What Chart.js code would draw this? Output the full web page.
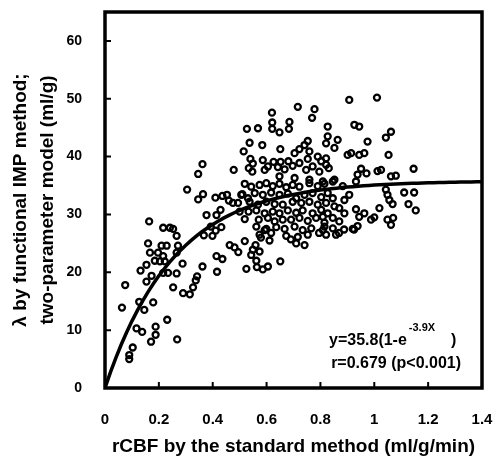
<!DOCTYPE html>
<html>
<head>
<meta charset="utf-8">
<script src="https://cdn.jsdelivr.net/npm/chart.js@4"></script>
<style>
  html, body { margin: 0; padding: 0; background: #fff; }
  canvas { display: block; }
</style>
</head>
<body>
<canvas id="chart" width="496" height="456"></canvas>
<script>
// rCBF (ml/g/min), lambda (ml/g)
const obs = [
  // low flow region
  [0.063,13.9],[0.075,17.8],[0.090,5.7],[0.090,5.0],[0.103,7.0],[0.117,10.3],[0.138,9.7],[0.127,14.9],[0.146,13.5],[0.132,20.3],
  [0.154,21.3],[0.154,18.4],[0.173,19.4],[0.160,25.0],[0.167,23.4],[0.197,23.4],[0.185,22.0],[0.204,21.9],[0.222,21.9],[0.216,22.8],
  [0.210,24.6],[0.229,24.6],[0.266,26.3],[0.271,24.6],[0.266,23.4],[0.216,19.9],[0.234,19.9],[0.266,19.8],[0.288,21.5],[0.179,14.8],
  [0.188,10.6],[0.188,9.2],[0.171,8.0],[0.231,11.8],[0.268,8.4],[0.253,17.4],[0.290,16.4],[0.315,16.2],[0.327,17.4],[0.337,18.6],
  [0.342,19.3],[0.362,21.0],[0.414,22.8],[0.416,20.1],[0.367,26.4],[0.436,22.3],[0.463,24.7],[0.481,24.3],[0.495,23.5],[0.519,25.4],
  [0.525,20.6],[0.253,27.5],[0.393,27.9],[0.411,27.2],[0.432,27.8],[0.559,24.7],[0.549,23.9],[0.543,23.0],[0.399,26.3],[0.164,28.8],
  [0.216,27.7],[0.241,27.7],[0.564,20.9],[0.586,20.5],[0.605,21.0],[0.651,21.9],[0.562,22.0],[0.574,23.6],
  // upper left
  [0.515,40.9],[0.540,39.6],[0.549,38.8],[0.534,38.0],[0.362,38.7],[0.346,37.0],[0.478,37.7],[0.586,39.4],[0.593,37.7],[0.305,34.3],
  [0.364,33.5],[0.346,32.6],[0.410,32.9],[0.436,33.2],[0.453,33.4],[0.460,32.4],[0.494,32.0],[0.510,33.5],[0.531,32.8],[0.429,30.8],
  [0.414,29.9],[0.533,30.5],[0.475,32.0],[0.377,29.9],
  // top of the cloud
  [0.716,48.6],[0.778,48.2],[0.769,46.7],[0.620,47.6],[0.621,45.9],[0.621,44.8],[0.685,46.0],[0.683,44.8],[0.527,44.8],[0.568,44.9],
  [0.648,44.2],[0.537,42.4],[0.584,42.0],[0.651,41.3],[0.626,39.1],[0.652,39.1],[0.681,39.2],[0.704,40.6],[0.722,41.3],[0.741,42.0],
  [0.753,42.7],[0.759,40.9],[0.753,39.6],[0.790,40.0],[0.803,39.2],[0.821,39.7],[0.821,38.6],[0.827,45.2],[0.827,43.5],[0.821,42.3],
  [0.547,37.4],[0.605,38.3],[0.642,38.2],[0.667,37.8],[0.697,38.4],[0.722,38.9],[0.747,37.7],[0.771,38.3],[0.796,37.4],[0.648,36.6],
  [0.704,36.3],[0.759,36.0],[0.574,26.5],[0.593,27.3],
  // dense band
  [0.519,35.3],[0.543,34.8],[0.574,35.1],[0.599,35.4],[0.623,34.9],[0.648,35.3],[0.673,34.7],[0.697,35.1],[0.722,34.8],[0.759,35.4],
  [0.790,34.9],[0.815,35.3],
  [0.506,33.4],[0.556,33.7],[0.586,33.4],[0.617,33.8],[0.648,33.4],[0.679,33.6],[0.710,32.8],[0.741,33.4],[0.771,33.7],[0.803,33.0],
  [0.827,33.7],
  [0.537,32.2],[0.568,31.7],[0.599,32.2],[0.630,31.8],[0.660,31.7],[0.697,32.2],[0.729,32.0],[0.759,32.2],[0.790,31.7],[0.821,32.0],
  [0.500,30.5],[0.562,30.7],[0.593,30.2],[0.623,30.5],[0.648,30.2],[0.679,30.7],[0.710,30.3],[0.734,30.7],[0.771,30.2],[0.803,30.8],
  [0.827,30.2],
  [0.519,29.2],[0.571,29.1],[0.605,29.4],[0.630,28.8],[0.660,29.1],[0.691,29.1],[0.722,29.4],[0.753,28.9],[0.784,29.4],[0.815,28.6],
  [0.562,27.9],[0.599,27.5],[0.636,27.8],[0.667,27.5],[0.704,27.9],[0.734,27.3],[0.766,27.6],[0.809,27.3],
  [0.617,26.8],[0.673,26.3],[0.716,26.1],[0.753,26.5],[0.821,26.5],
  [0.611,25.5],[0.710,25.0],[0.741,24.7],[0.690,25.7],[0.579,26.0],
  [0.869,26.8],[0.888,27.4],[0.925,27.4],[0.795,26.8],
  // right part
  [0.907,49.8],[1.010,50.2],[0.926,45.5],[0.944,45.2],[1.062,44.3],[1.043,43.3],[0.975,42.6],[0.864,42.9],[0.852,41.5],[0.901,40.3],
  [0.914,40.6],[0.944,40.3],[0.963,40.6],[1.053,40.3],[0.831,38.0],[1.146,37.9],[0.951,37.9],[0.938,36.9],[0.971,37.1],[1.012,37.5],
  [1.025,37.7],[1.062,36.6],[1.080,36.7],[0.852,36.0],[0.932,35.7],[0.809,35.7],
  [1.043,34.3],[1.049,33.4],[1.056,32.5],[1.068,31.8],[1.111,33.8],[1.148,33.8],[1.127,31.8],[1.154,30.7],[1.019,31.1],[0.932,30.9],
  [0.963,30.2],[0.944,29.6],[0.988,29.1],[1.000,29.5],[1.049,29.1],[1.070,29.4],[1.062,28.2],[0.920,27.5],[0.938,28.0],
  [0.846,32.8],[0.852,31.4],[0.870,31.1],[0.889,30.2],[0.809,29.6],[0.846,29.4],[0.870,28.8],[0.815,27.9],[0.846,27.6],[0.858,26.5],
  [0.907,33.4],[0.889,32.5],[0.846,35.7],[0.883,34.9]
];

const xTicks = [0, 0.2, 0.4, 0.6, 0.8, 1, 1.2, 1.4];
const yTicks = [0, 10, 20, 30, 40, 50, 60];

// fitted curve y = a(1 - e^(-b x)) as printed on the chart
const fitA = 35.8;
const fitB = 3.9;
const eqMain = 'y=35.8(1-e';
const eqExp = '-3.9X';
const eqR = 'r=0.679 (p<0.001)';

const FONT = '"Liberation Sans", Arial, Helvetica, sans-serif';
Chart.defaults.font.family = FONT;
Chart.defaults.color = '#000';

const fitPts = [];
for (let i = 0; i <= 70; i++) {
  const x = i * 0.02;
  fitPts.push({x: x, y: fitA * (1 - Math.exp(-fitB * x))});
}

const frame = {
  id: 'frame',
  afterDatasetsDraw(chart) {
    const {ctx, chartArea: a, scales: {x, y}} = chart;
    ctx.save();
    ctx.strokeStyle = '#000';
    ctx.lineWidth = 2;
    ctx.beginPath();
    yTicks.forEach(v => {
      const py = y.getPixelForValue(v);
      ctx.moveTo(a.left, py);
      ctx.lineTo(a.left + 6, py);
    });
    xTicks.forEach(v => {
      const px = x.getPixelForValue(v);
      ctx.moveTo(px, a.bottom);
      ctx.lineTo(px, a.bottom - 6);
    });
    ctx.stroke();
    ctx.lineWidth = 3.5;
    ctx.strokeRect(a.left, a.top, a.right - a.left, a.bottom - a.top);

    // equation text
    ctx.fillStyle = '#000';
    ctx.textBaseline = 'alphabetic';
    ctx.textAlign = 'left';
    ctx.font = 'bold 16px ' + FONT;
    const x0 = a.right - 153;
    ctx.fillText(eqMain, x0, a.bottom - 43);
    const w = ctx.measureText(eqMain).width;
    ctx.font = 'bold 11px ' + FONT;
    ctx.fillText(eqExp, x0 + w + 2, a.bottom - 57);
    ctx.font = 'bold 16px ' + FONT;
    ctx.fillText(')', a.right - 31, a.bottom - 43);
    ctx.textAlign = 'right';
    ctx.fillText(eqR, a.right - 21, a.bottom - 20);
    ctx.restore();
  }
};

new Chart(document.getElementById('chart'), {
  type: 'scatter',
  data: {
    datasets: [
      {
        data: fitPts,
        showLine: true,
        borderColor: '#000',
        borderWidth: 3.5,
        pointRadius: 0,
        tension: 0,
        order: 0
      },
      {
        data: obs.map(p => ({x: p[0], y: p[1]})),
        pointRadius: 3,
        borderWidth: 2.3,
        borderColor: '#000',
        backgroundColor: 'rgba(0,0,0,0)',
        order: 1
      }
    ]
  },
  options: {
    responsive: false,
    animation: false,
    devicePixelRatio: 1,
    events: [],
    layout: {padding: {top: 12, right: 14, left: 0, bottom: 0}},
    plugins: {legend: {display: false}, tooltip: {enabled: false}},
    scales: {
      x: {
        type: 'linear',
        min: 0,
        max: 1.4,
        afterBuildTicks: s => { s.ticks = xTicks.map(v => ({value: v})); },
        afterFit: s => { s.height = 68; s.paddingLeft = 0; s.paddingRight = 0; },
        grid: {display: false},
        border: {display: false},
        ticks: {
          padding: 15,
          maxRotation: 0,
          autoSkip: false,
          font: {size: 15, weight: 'bold'},
          callback: v => String(v)
        },
        title: {
          display: true,
          text: 'rCBF by the standard method (ml/g/min)',
          font: {size: 19, weight: 'bold', lineHeight: '18px'},
          padding: {top: 0, bottom: 0}
        }
      },
      y: {
        min: 0,
        max: 65,
        afterBuildTicks: s => { s.ticks = yTicks.map(v => ({value: v})); },
        afterFit: s => { s.width = 105; s.paddingTop = 0; s.paddingBottom = 0; },
        grid: {display: false},
        border: {display: false},
        ticks: {
          padding: 15,
          font: {size: 14, weight: 'bold'}
        },
        title: {
          display: true,
          text: ['λ by functional IMP method;', 'two-parameter model (ml/g)'],
          font: {size: 19, weight: 'bold', lineHeight: '27px'},
          padding: {top: 7.5, bottom: 0}
        }
      }
    }
  },
  plugins: [frame]
});
</script>
</body>
</html>
